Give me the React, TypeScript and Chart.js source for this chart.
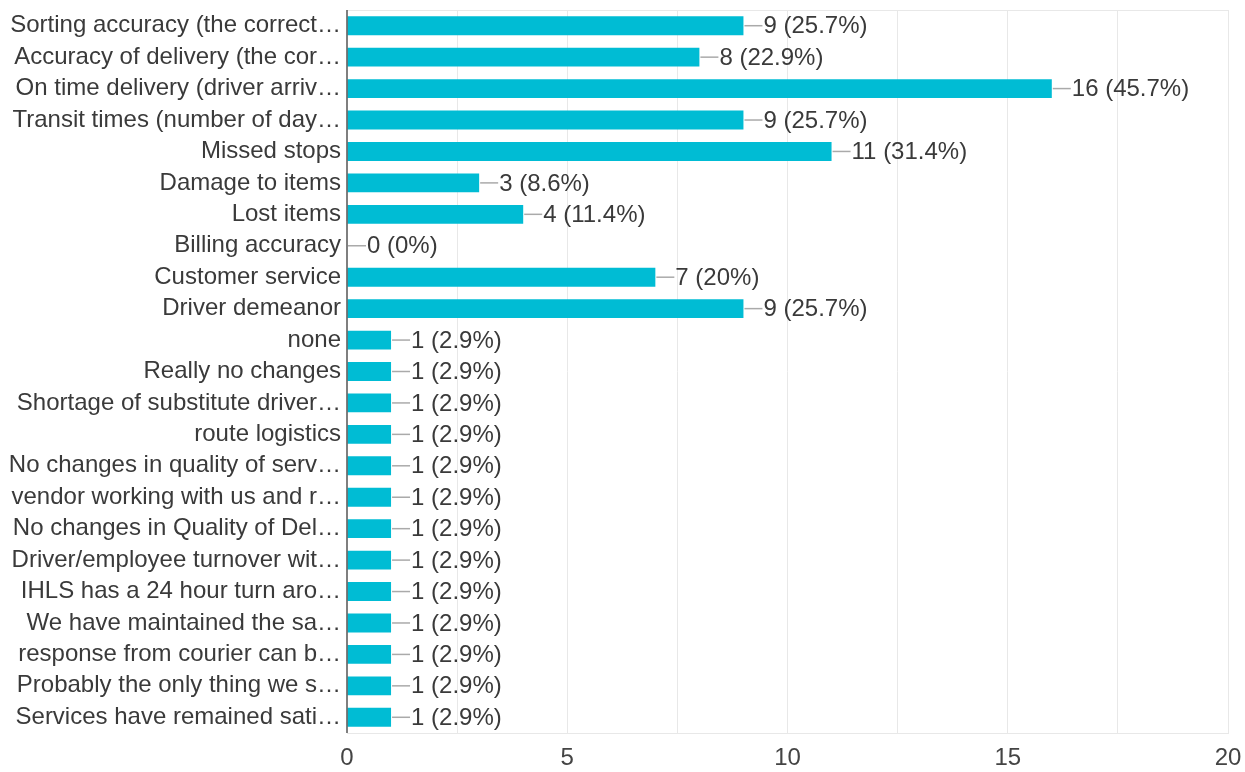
import React, { useEffect, useRef } from "react";
import { Chart, registerables } from "chart.js";

Chart.register(...registerables);

const categories: string[] = [
  "Sorting accuracy (the correct…",
  "Accuracy of delivery (the cor…",
  "On time delivery (driver arriv…",
  "Transit times (number of day…",
  "Missed stops",
  "Damage to items",
  "Lost items",
  "Billing accuracy",
  "Customer service",
  "Driver demeanor",
  "none",
  "Really no changes",
  "Shortage of substitute driver…",
  "route logistics",
  "No changes in quality of serv…",
  "vendor working with us and r…",
  "No changes in Quality of Del…",
  "Driver/employee turnover wit…",
  "IHLS has a 24 hour turn aro…",
  "We have maintained the sa…",
  "response from courier can b…",
  "Probably the only thing we s…",
  "Services have remained sati…",
];

const counts: number[] = [9, 8, 16, 9, 11, 3, 4, 0, 7, 9, 1, 1, 1, 1, 1, 1, 1, 1, 1, 1, 1, 1, 1];

const percents: string[] = [
  "25.7%", "22.9%", "45.7%", "25.7%", "31.4%", "8.6%", "11.4%", "0%", "20%", "25.7%",
  "2.9%", "2.9%", "2.9%", "2.9%", "2.9%", "2.9%", "2.9%", "2.9%", "2.9%", "2.9%", "2.9%", "2.9%", "2.9%",
];

const xTicks: number[] = [0, 5, 10, 15, 20];

const FONT = "'Liberation Sans', Arial, Helvetica, sans-serif";
const BAR_COLOR = "#00bcd4";
const GRID = "#e8e8e8";
const TEXT = "#3a3a3a";

const labelPlugin = {
  id: "valueLabels",
  afterDatasetsDraw(chart: any) {
    const ctx = chart.ctx;
    const area = chart.chartArea;
    ctx.save();
    ctx.strokeStyle = GRID;
    ctx.lineWidth = 1;
    ctx.beginPath();
    ctx.moveTo(area.left, area.top + 0.5);
    ctx.lineTo(area.right, area.top + 0.5);
    ctx.stroke();
    const meta = chart.getDatasetMeta(0);
    ctx.font = `24px ${FONT}`;
    ctx.textBaseline = "middle";
    ctx.textAlign = "left";
    meta.data.forEach((el: any, i: number) => {
      const x = Math.max(el.x, area.left);
      const y = el.y;
      ctx.strokeStyle = "#aaaaaa";
      ctx.lineWidth = 1.5;
      ctx.beginPath();
      ctx.moveTo(x + 1, y);
      ctx.lineTo(x + 19, y);
      ctx.stroke();
      ctx.fillStyle = TEXT;
      ctx.fillText(`${counts[i]} (${percents[i]})`, x + 20, y + 1);
    });
    ctx.strokeStyle = "#555555";
    ctx.lineWidth = 1.5;
    ctx.beginPath();
    ctx.moveTo(area.left, area.top);
    ctx.lineTo(area.left, area.bottom);
    ctx.stroke();
    ctx.restore();
  },
};

export default function App() {
  const ref = useRef<HTMLCanvasElement | null>(null);
  useEffect(() => {
    document.body.style.margin = "0";
    if (!ref.current) return;
    const chart = new Chart(ref.current, {
      type: "bar",
      data: {
        labels: categories,
        datasets: [
          {
            data: counts,
            backgroundColor: BAR_COLOR,
            borderWidth: 0,
            barPercentage: 0.6,
            categoryPercentage: 1,
          },
        ],
      },
      options: {
        indexAxis: "y",
        responsive: false,
        animation: false,
        layout: { padding: { top: 10, right: 17, bottom: 0, left: 0 } },
        plugins: { legend: { display: false }, tooltip: { enabled: false } },
        scales: {
          x: {
            min: 0,
            max: 20,
            afterFit: (s: any) => {
              s.height = 39;
              s.paddingLeft = 0;
              s.paddingRight = 0;
            },
            ticks: {
              stepSize: 2.5,
              autoSkip: false,
              maxRotation: 0,
              padding: 11,
              color: "#444",
              font: { size: 24, family: FONT },
              callback: (v: any) => (xTicks.includes(Number(v)) ? String(v) : ""),
            },
            grid: {
              color: (c: any) => (c.tick && c.tick.value === 0 ? "rgba(0,0,0,0)" : GRID),
              drawTicks: false,
            },
            border: { display: true, color: GRID },
          },
          y: {
            afterFit: (s: any) => {
              s.width = 347;
              s.paddingTop = 0;
              s.paddingBottom = 0;
            },
            ticks: {
              autoSkip: false,
              padding: 6,
              color: TEXT,
              font: { size: 24, family: FONT },
            },
            grid: { display: false, drawTicks: false },
            border: { display: false },
          },
        },
      },
      plugins: [labelPlugin],
    });
    return () => chart.destroy();
  }, []);
  return (
    <div style={{ position: "absolute", left: 0, top: 0, width: 1245, height: 772, background: "#fff" }}>
      <canvas ref={ref} width={1245} height={772} style={{ display: "block" }} />
    </div>
  );
}
